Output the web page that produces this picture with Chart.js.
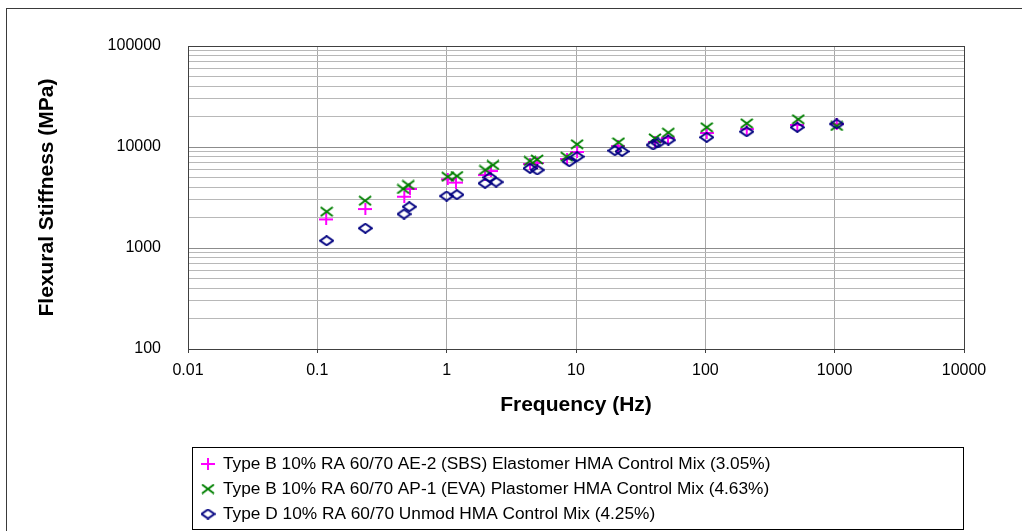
<!DOCTYPE html>
<html>
<head>
<meta charset="utf-8">
<script src="https://cdn.jsdelivr.net/npm/chart.js@4.4.1/dist/chart.umd.min.js"></script>
<style>
  html, body { margin: 0; padding: 0; background: #fff; overflow: hidden; }
  canvas { display: block; }
</style>
</head>
<body>
<canvas id="stiffness-chart" width="1022" height="531"></canvas>
<script>
// Flexural stiffness against loading frequency, three mixes
const seriesNames = [
    'Type B 10% RA 60/70 AE-2 (SBS) Elastomer HMA Control Mix (3.05%)',
    'Type B 10% RA 60/70 AP-1 (EVA) Plastomer HMA Control Mix (4.63%)',
    'Type D 10% RA 60/70 Unmod HMA Control Mix (4.25%)'
];

const freqSBS = [0.117, 0.235, 0.47, 0.52, 1.02, 1.18, 1.98, 2.2, 4.41, 5.0, 8.52, 10.2, 21.1, 40.8, 51.4, 102.5, 209, 514, 1037];
const stiffSBS = [1920, 2430, 3220, 3840, 4790, 4440, 5280, 5780, 6790, 6950, 7610, 8930, 10230, 11220, 12280, 13760, 15070, 16520, 16900];

const freqEVA = [0.118, 0.234, 0.462, 0.505, 1.02, 1.2, 1.99, 2.28, 4.41, 5.0, 8.48, 10.2, 21.3, 40.8, 51.7, 102.5, 209, 523, 1037];
const stiffEVA = [2290, 2940, 3840, 4210, 5080, 5160, 5920, 6640, 7270, 7520, 8020, 10640, 11120, 12190, 13860, 15670, 17160, 18800, 16150];

const freqUnmod = [0.118, 0.235, 0.468, 0.514, 1.0, 1.2, 1.98, 2.16, 2.41, 4.41, 5.02, 8.87, 10.2, 20.0, 22.7, 39.5, 43.1, 51.7, 102.5, 209, 514, 1037];
const stiffUnmod = [1180, 1570, 2170, 2560, 3270, 3370, 4370, 5010, 4500, 6150, 5920, 7150, 8020, 9200, 9050, 10470, 10960, 11730, 12480, 14170, 15670, 16900];

const xTickValues = [0.01, 0.1, 1, 10, 100, 1000, 10000];
const xTickLabels = ['0.01', '0.1', '1', '10', '100', '1000', '10000'];
const yTickValues = [100, 1000, 10000, 100000];
const yTickLabels = ['100', '1000', '10000', '100000'];

const toPoints = (xs, ys) => xs.map((x, i) => ({ x: x, y: ys[i] }));

// Excel-style markers, a little wider than tall
function marker(w, h, color, draw) {
    const c = document.createElement('canvas');
    c.width = w;
    c.height = h;
    const g = c.getContext('2d');
    g.strokeStyle = color;
    g.lineWidth = 2;
    g.beginPath();
    draw(g, w, h);
    g.stroke();
    return c;
}

const plusMark = marker(14, 12, '#ff00ff', (g, w, h) => {
    g.moveTo(0, h / 2); g.lineTo(w, h / 2);
    g.moveTo(w / 2, 0); g.lineTo(w / 2, h);
});
const crossMark = marker(14, 11, '#008000', (g, w, h) => {
    g.moveTo(1, 1); g.lineTo(w - 1, h - 1);
    g.moveTo(w - 1, 1); g.lineTo(1, h - 1);
});
const diamondMark = marker(15, 11, '#000080', (g, w, h) => {
    g.moveTo(w / 2, 1); g.lineTo(w - 1, h / 2);
    g.lineTo(w / 2, h - 1); g.lineTo(1, h / 2);
    g.closePath();
});
const markers = [plusMark, crossMark, diamondMark];

// decades plus the 2..9 minor lines
function logTicks(min, max) {
    const out = [];
    for (let d = min; d < max; d *= 10) {
        for (let k = 1; k < 10; k++) out.push({ value: d * k });
    }
    out.push({ value: max });
    return out;
}
const isDecade = v => Math.abs(Math.log10(v) - Math.round(Math.log10(v))) < 1e-9;

const framePlugin = {
    id: 'frame',
    beforeDatasetsDraw(chart) {
        const { ctx, chartArea: a } = chart;
        ctx.save();
        ctx.strokeStyle = '#404040';
        ctx.lineWidth = 1;
        ctx.strokeRect(Math.round(a.left) + 0.5, Math.round(a.top) + 0.5,
            Math.round(a.right - a.left), Math.round(a.bottom - a.top));
        ctx.restore();
    },
    afterDraw(chart) {
        const ctx = chart.ctx;
        ctx.save();
        // outer chart border
        ctx.strokeStyle = '#3a3a3a';
        ctx.lineWidth = 1;
        ctx.strokeRect(6.5, 8.5, 1100, 600);
        // legend box
        ctx.strokeStyle = '#000';
        ctx.strokeRect(192.5, 447.5, 771, 82);
        ctx.font = '17.3px "Liberation Sans", Arial, sans-serif';
        ctx.fillStyle = '#000';
        ctx.textBaseline = 'middle';
        ctx.textAlign = 'left';
        const rows = [464, 489, 514];
        seriesNames.forEach((name, i) => {
            const m = markers[i];
            ctx.drawImage(m, 208 - m.width / 2, rows[i] - m.height / 2);
            ctx.fillText(name, 223, rows[i]);
        });
        ctx.restore();
    }
};

Chart.defaults.font.family = '"Liberation Sans", Arial, sans-serif';
Chart.defaults.color = '#000';

new Chart('stiffness-chart', {
    type: 'scatter',
    data: {
        datasets: [{
            label: seriesNames[0],
            data: toPoints(freqSBS, stiffSBS),
            pointStyle: plusMark,
            pointRadius: 6,
            order: 3
        }, {
            label: seriesNames[1],
            data: toPoints(freqEVA, stiffEVA),
            pointStyle: crossMark,
            pointRadius: 6,
            order: 2
        }, {
            label: seriesNames[2],
            data: toPoints(freqUnmod, stiffUnmod),
            pointStyle: diamondMark,
            pointRadius: 6,
            order: 1
        }]
    },
    options: {
        responsive: false,
        devicePixelRatio: 1,
        animation: false,
        layout: {
            padding: { left: 35, top: 46, right: 58, bottom: 113 }
        },
        scales: {
            x: {
                type: 'logarithmic',
                min: 0.01,
                max: 10000,
                afterBuildTicks: scale => {
                    scale.ticks = xTickValues.map(v => ({ value: v }));
                },
                afterFit: scale => { scale.height = 69; },
                ticks: {
                    autoSkip: false,
                    maxRotation: 0,
                    padding: 8,
                    font: { size: 16 },
                    callback: (v, i) => xTickLabels[i]
                },
                grid: {
                    color: '#a8a8a8',
                    tickColor: '#404040',
                    tickLength: 4
                },
                border: { color: '#404040' },
                title: {
                    display: true,
                    text: 'Frequency (Hz)',
                    font: { size: 21, weight: 'bold' },
                    padding: 0
                }
            },
            y: {
                type: 'logarithmic',
                min: 100,
                max: 100000,
                afterBuildTicks: scale => {
                    scale.ticks = logTicks(100, 100000);
                },
                afterFit: scale => { scale.width = 153; },
                ticks: {
                    autoSkip: false,
                    padding: 27,
                    font: { size: 16 },
                    callback: v => {
                        const i = yTickValues.indexOf(v);
                        return i >= 0 ? yTickLabels[i] : '';
                    }
                },
                grid: {
                    drawTicks: false,
                    color: ctx => (ctx.tick && isDecade(ctx.tick.value)) ? '#8c8c8c' : '#b8b8b8'
                },
                border: { color: '#404040' },
                title: {
                    display: true,
                    text: 'Flexural Stiffness (MPa)',
                    font: { size: 21, weight: 'bold' },
                    padding: 0
                }
            }
        },
        plugins: {
            legend: { display: false },
            tooltip: { enabled: false }
        }
    },
    plugins: [framePlugin]
});
</script>
</body>
</html>
